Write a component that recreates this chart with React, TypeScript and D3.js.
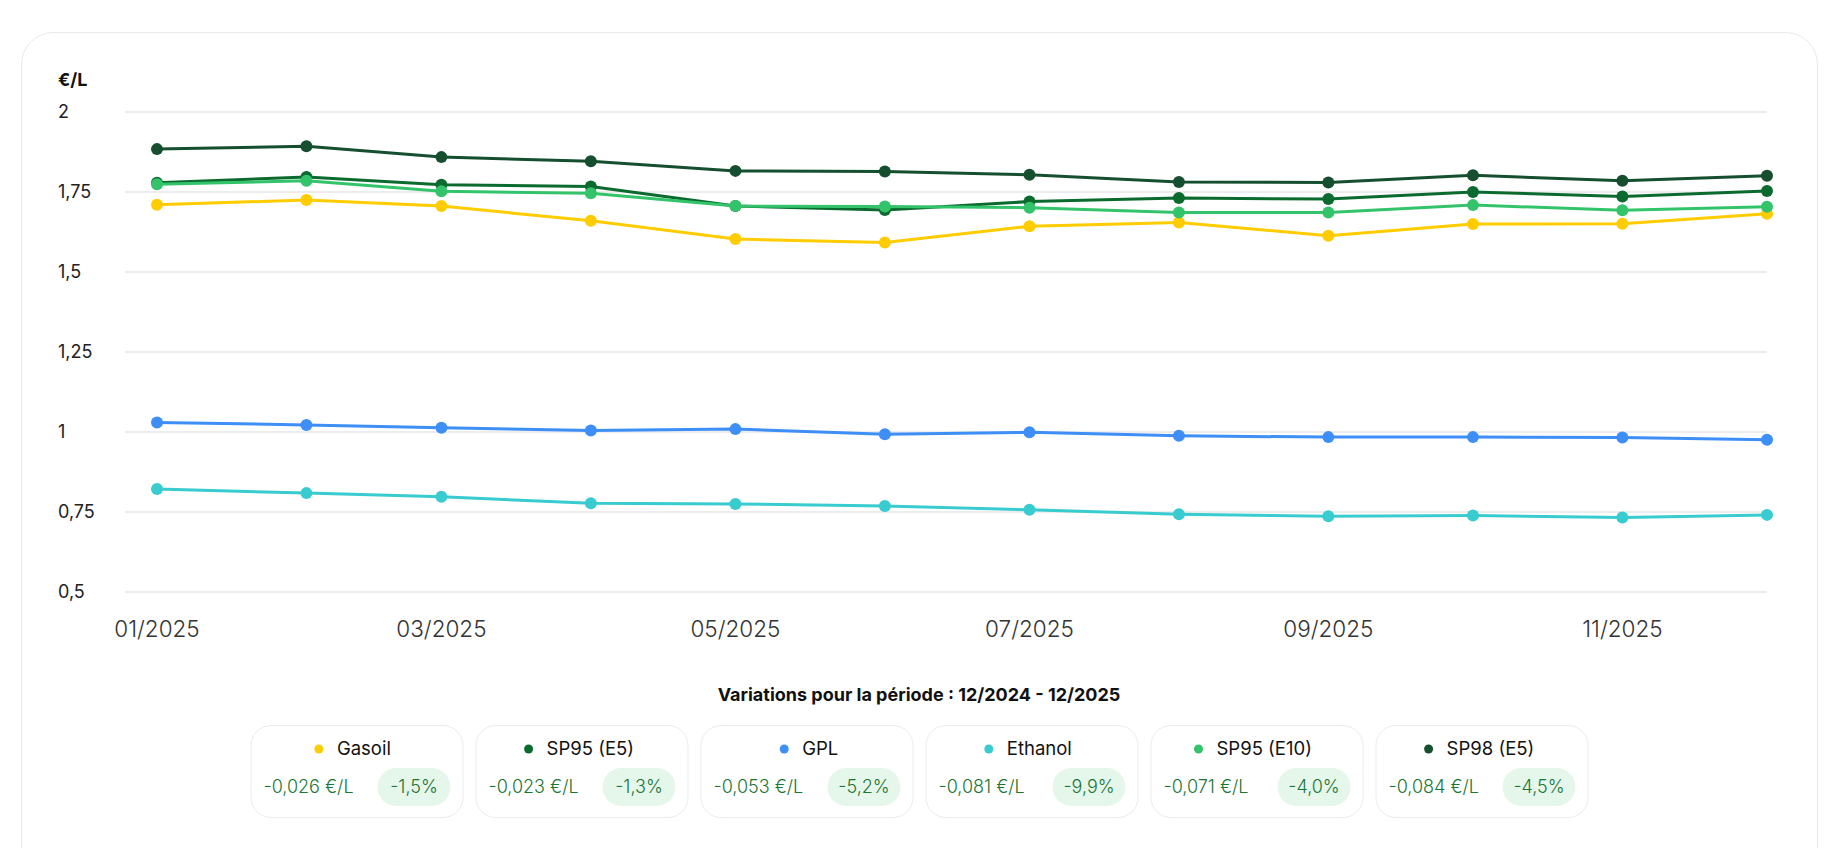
import React from 'react';
import * as d3 from 'd3';

// Monthly average prices (€/L), 2025
const months = [
  '2025-01-01', '2025-02-01', '2025-03-01', '2025-04-01', '2025-05-01', '2025-06-01',
  '2025-07-01', '2025-08-01', '2025-09-01', '2025-10-01', '2025-11-01', '2025-12-01'
];

const gasoil = [1.710, 1.725, 1.706, 1.660, 1.603, 1.592, 1.643, 1.655, 1.613, 1.650, 1.651, 1.682];
const sp95e5 = [1.779, 1.797, 1.773, 1.767, 1.706, 1.694, 1.720, 1.731, 1.728, 1.750, 1.736, 1.753];
const gpl = [1.030, 1.022, 1.013, 1.005, 1.009, 0.993, 0.999, 0.988, 0.984, 0.984, 0.983, 0.976];
const ethanol = [0.822, 0.809, 0.798, 0.777, 0.775, 0.769, 0.757, 0.743, 0.737, 0.739, 0.733, 0.741];
const sp95e10 = [1.774, 1.785, 1.752, 1.746, 1.706, 1.705, 1.701, 1.686, 1.686, 1.709, 1.693, 1.704];
const sp98e5 = [1.884, 1.893, 1.859, 1.846, 1.816, 1.814, 1.804, 1.781, 1.780, 1.802, 1.785, 1.801];

const yTicks = [0.5, 0.75, 1, 1.25, 1.5, 1.75, 2];

const seriesNames = ['Gasoil', 'SP95 (E5)', 'GPL', 'Ethanol', 'SP95 (E10)', 'SP98 (E5)'];
const seriesColors = ['#ffcc00', '#0b6b2f', '#3d8ff7', '#38cbcf', '#33c46b', '#164f2f'];
const seriesValues = [gasoil, sp95e5, gpl, ethanol, sp95e10, sp98e5];

const variationAbs = ['-0,026 €/L', '-0,023 €/L', '-0,053 €/L', '-0,081 €/L', '-0,071 €/L', '-0,084 €/L'];
const variationPct = ['-1,5%', '-1,3%', '-5,2%', '-9,9%', '-4,0%', '-4,5%'];

const periodLabel = 'Variations pour la période : 12/2024 - 12/2025';

const W = 1836;
const H = 848;
const FONT = 'Inter, "Noto Sans", sans-serif';

const frLocale = d3.formatLocale({
  decimal: ',',
  thousands: ' ',
  grouping: [3],
  currency: ['', '€']
});
const fmtY = frLocale.format('~g');
const fmtX = d3.timeFormat('%m/%Y');

const App: React.FC = () => {
  const dates = months.map(m => d3.isoParse(m) as Date);

  const x = d3.scaleTime()
    .domain([dates[0], dates[dates.length - 1]])
    .range([157, 1767]);

  const y = d3.scaleLinear()
    .domain([0.5, 2])
    .range([592, 112]);

  const gridLeft = 125;
  const gridRight = x.range()[1];

  const line = d3.line<number>()
    .x((_, i) => x(dates[i]))
    .y(d => y(d));

  const xTicks = x.ticks(d3.timeMonth.every(2)!);

  // legend layout
  const boxW = 212;
  const boxGap = 13;
  const legendCenter = 919;
  const totalW = seriesNames.length * boxW + (seriesNames.length - 1) * boxGap;
  const legendLeft = legendCenter - totalW / 2;
  const boxTop = 725;
  const boxH = 92;

  return (
    <svg
      width={W}
      height={H}
      style={{ position: 'absolute', left: 0, top: 0, background: '#fff' }}
      fontFamily={FONT}
    >
      <rect x={21.5} y={32.5} width={1796} height={900} rx={32} fill="#fff" stroke="#e9e9e9" />

      {/* unit label */}
      <text x={58} y={80} dy="0.35em" fontSize={18} fontWeight={700} fill="#111">€/L</text>

      {/* y grid + labels */}
      <g>
        {yTicks.map(t => (
          <g key={t}>
            <line x1={gridLeft} x2={gridRight} y1={y(t)} y2={y(t)} stroke="#e6e6e6" strokeWidth={1.5} />
            <text x={58} y={y(t)} dy="0.35em" fontSize={18} fill="#222">{fmtY(t)}</text>
          </g>
        ))}
      </g>

      {/* x labels */}
      <g>
        {xTicks.map(t => (
          <text key={t.getTime()} x={x(t)} y={629} dy="0.35em" textAnchor="middle" fontSize={22.5} fontWeight={300} fill="#333">
            {fmtX(t)}
          </text>
        ))}
      </g>

      {/* series */}
      {seriesValues.map((vals, s) => (
        <g key={seriesNames[s]}>
          <path d={line(vals) ?? ''} fill="none" stroke={seriesColors[s]} strokeWidth={3} strokeLinejoin="round" />
          {vals.map((v, i) => (
            <circle key={i} cx={x(dates[i])} cy={y(v)} r={6} fill={seriesColors[s]} />
          ))}
        </g>
      ))}

      {/* legend */}
      <text x={legendCenter} y={695} dy="0.35em" textAnchor="middle" fontSize={18} fontWeight={700} fill="#111">
        {periodLabel}
      </text>

      {seriesNames.map((name, s) => {
        const bx = legendLeft + s * (boxW + boxGap);
        const cx = bx + boxW / 2;
        const nameW = name.length * 10.2;
        const rowW = 8 + 14 + nameW;
        const startX = cx - rowW / 2;
        const pillW = 73;
        const pillX = bx + boxW - 12 - pillW;
        return (
          <g key={name}>
            <rect x={bx + 0.5} y={boxTop + 0.5} width={boxW} height={boxH} rx={20} fill="#fff" stroke="#ebebeb" />
            <circle cx={startX + 4} cy={boxTop + 24} r={4.5} fill={seriesColors[s]} />
            <text x={startX + 22} y={boxTop + 24} dy="0.35em" fontSize={18.5} fill="#111">{name}</text>
            <text x={bx + 13} y={boxTop + 62} dy="0.35em" fontSize={18} fontWeight={300} fill="#1b7535">
              {variationAbs[s]}
            </text>
            <rect x={pillX} y={boxTop + 43} width={pillW} height={38} rx={19} fill="#e5f6ea" />
            <text x={pillX + pillW / 2} y={boxTop + 62} dy="0.35em" textAnchor="middle" fontSize={18} fontWeight={300} fill="#1b7535">
              {variationPct[s]}
            </text>
          </g>
        );
      })}
    </svg>
  );
};

export default App;
